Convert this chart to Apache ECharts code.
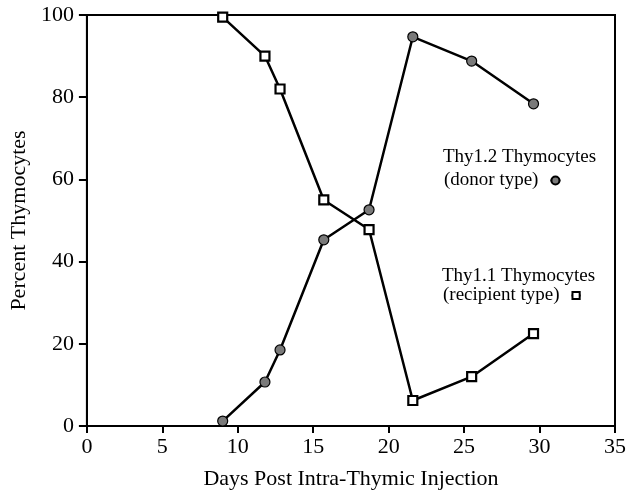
<!DOCTYPE html>
<html lang="en">
<head>
    <meta charset="UTF-8">
    <title>Thymocytes after intra-thymic injection</title>
    <script src="https://cdn.jsdelivr.net/npm/echarts@6/dist/echarts.min.js"></script>
    <style>
        html, body, #chart {
            width: 629px;
            height: 495px;
            padding: 0;
            margin: 0;
            background: #fff;
        }
    </style>
</head>
<body>
<div id="chart"></div>
<script>
    // values
    var days = [9, 11.8, 12.8, 15.7, 18.7, 21.6, 25.5, 29.6];
    var donor = [1.2, 10.7, 18.5, 45.3, 52.6, 94.7, 88.8, 78.4];
    var recipient = [99.5, 90, 82, 55, 47.8, 6.2, 12, 22.5];

    var donorName = "Thy1.2 Thymocytes (donor type)";
    var recipientName = "Thy1.1 Thymocytes (recipient type)";

    function pairs(ys) {
        return days.map(function (d, i) {
            return [d, ys[i]];
        });
    }

    var font = "Liberation Serif";
    var myChart = echarts.init(document.getElementById("chart"));

    myChart.setOption({
        animation: false,
        backgroundColor: "#fff",
        grid: {
            left: 85,
            right: 12,
            top: 15,
            bottom: 66,
            show: true,
            borderColor: "#000",
            borderWidth: 2
        },
        graphic: [{
            type: "text",
            left: 443,
            top: 148,
            style: {text: "Thy1.2 Thymocytes", font: "19px " + font, fill: "#000"}
        }, {
            type: "text",
            left: 442,
            top: 267,
            style: {text: "Thy1.1 Thymocytes", font: "19px " + font, fill: "#000"}
        }],
        legend: [{
            data: [donorName],
            left: 439,
            top: 166,
            align: "right",
            itemWidth: 10,
            itemHeight: 10,
            formatter: function () {
                return "(donor type)";
            },
            textStyle: {fontFamily: font, fontSize: 19, color: "#000", padding: [0, 7, 0, 0]}
        }, {
            data: [recipientName],
            left: 438,
            top: 281,
            align: "right",
            itemWidth: 9,
            itemHeight: 9,
            formatter: function () {
                return "(recipient type)";
            },
            textStyle: {fontFamily: font, fontSize: 19, color: "#000", padding: [0, 7, 0, 0]}
        }],
        xAxis: {
            type: "value",
            min: 0,
            max: 35,
            interval: 5,
            name: "Days Post Intra-Thymic Injection",
            nameLocation: "middle",
            nameGap: 42,
            nameTextStyle: {fontFamily: font, fontSize: 22, color: "#000"},
            axisLine: {lineStyle: {color: "#000", width: 2}},
            axisTick: {length: 7, lineStyle: {color: "#000", width: 2}},
            axisLabel: {fontFamily: font, fontSize: 22, color: "#000", margin: 10},
            splitLine: {show: false}
        },
        yAxis: {
            type: "value",
            min: 0,
            max: 100,
            interval: 20,
            name: "Percent Thymocytes",
            nameLocation: "middle",
            nameGap: 51,
            nameTextStyle: {fontFamily: font, fontSize: 22, color: "#000"},
            axisLine: {lineStyle: {color: "#000", width: 2}},
            axisTick: {length: 8, lineStyle: {color: "#000", width: 2}},
            axisLabel: {fontFamily: font, fontSize: 22, color: "#000", margin: 13},
            splitLine: {show: false}
        },
        series: [{
            name: donorName,
            type: "line",
            data: pairs(donor),
            symbol: "circle",
            symbolSize: 10,
            lineStyle: {color: "#000", width: 2.5},
            itemStyle: {color: "#7a7a7a", borderColor: "#000", borderWidth: 1.2, opacity: 1}
        }, {
            name: recipientName,
            type: "line",
            data: pairs(recipient),
            symbol: "rect",
            symbolSize: 9,
            lineStyle: {color: "#000", width: 2.5},
            itemStyle: {color: "#fff", borderColor: "#000", borderWidth: 2.2, opacity: 1}
        }]
    });
</script>
</body>
</html>
